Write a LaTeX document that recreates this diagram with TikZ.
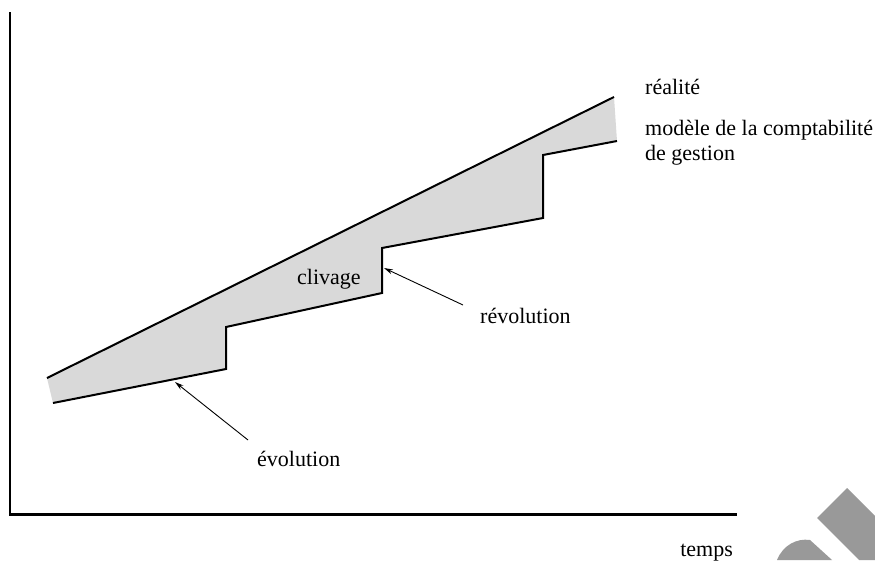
\documentclass[tikz,border=0pt]{standalone}
\usepackage{fontspec}
\setmainfont{Liberation Serif}
\usetikzlibrary{arrows.meta}
\definecolor{bandgray}{RGB}{217,217,217}
\definecolor{markgray}{RGB}{153,153,153}
\begin{document}
\begin{tikzpicture}[x=1pt,y=-1pt,
  lbl/.style={font=\fontsize{22}{25}\selectfont, inner sep=0pt},
  vaxis/.style={line width=2pt},
  haxis/.style={line width=3pt},
  edge/.style={line width=2pt, line join=miter, line cap=butt},
  pointer/.style={line width=0.9pt, -{Stealth[length=9pt,width=5pt]}},
]
\useasboundingbox (0,0) rectangle (875,560);

% axes
\coordinate (ytop) at (10,12);
\coordinate (origin) at (10,514);
\coordinate (xend) at (737,514);
\draw[vaxis] (ytop) -- ([yshift=-1.5pt]origin);
\draw[haxis] ([xshift=-1pt]origin) -- (xend);

% gap between reality and the management accounting model
\fill[bandgray] (47,378) -- (614,97) -- (617,141) -- (543,155) -- (543,218)
  -- (382,248) -- (382,293) -- (226,327) -- (226,369) -- (53,403) -- cycle;
\draw[edge] (47,378) -- (614,97);
\draw[edge] (617,141) -- (543,155) -- (543,218) -- (382,248) -- (382,293)
  -- (226,327) -- (226,369) -- (53,403);

% labels (base of a two-line node is its last line)
\node[lbl, anchor=base west] (real) at (645,94) {réalité};
\node[lbl, anchor=base west, align=left] (model) at (645,160) {modèle de la comptabilité\\de gestion};
\node[lbl, anchor=base west] (cliv) at (297,284) {clivage};
\node[lbl, anchor=base west] (revo) at (480,323) {révolution};
\node[lbl, anchor=base west] (evo) at (257,466) {évolution};
\node[lbl, anchor=base east] (time) at (733,556) {temps};

% pointers
\coordinate (evofrom) at (248,440);
\coordinate (evotip) at (175,382);
\coordinate (revofrom) at (463,305);
\coordinate (revotip) at (384,268);
\draw[pointer] (evofrom) -- (evotip);
\draw[pointer] (revofrom) -- (revotip);

% corner mark
\fill[markgray] (817,518) -- (847,488) -- (875,516) -- (875,560) -- (859,560) -- cycle;
\fill[markgray] (777,560) .. controls (783,545) and (797,538) .. (810,540) -- (832,560) -- cycle;
\end{tikzpicture}
\end{document}
